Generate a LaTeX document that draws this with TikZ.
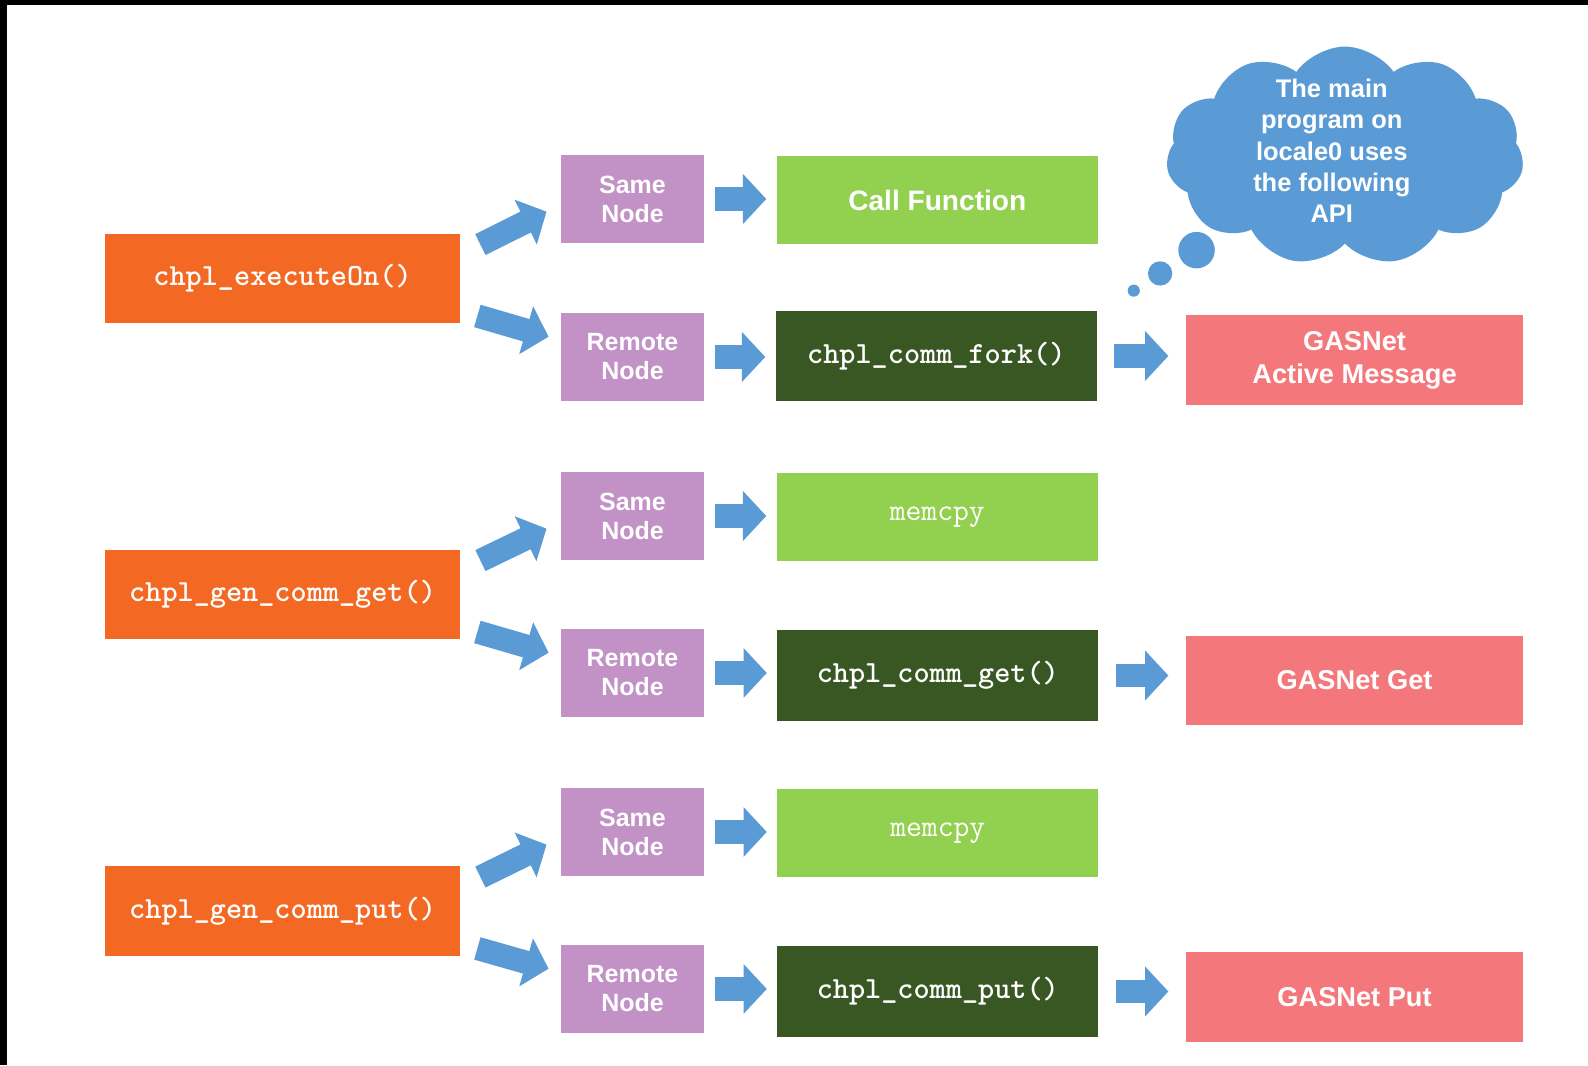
\documentclass[tikz,border=0pt]{standalone}
\usepackage{fontspec}
\setmainfont{Liberation Sans}
\usetikzlibrary{arrows.meta,calc,shapes.symbols}

\definecolor{fnorange}{RGB}{243,104,35}
\definecolor{sidepurple}{RGB}{194,146,199}
\definecolor{callgreen}{RGB}{146,208,80}
\definecolor{commgreen}{RGB}{57,87,35}
\definecolor{netpink}{RGB}{244,119,123}
\definecolor{arrowblue}{RGB}{91,155,213}

\newlength{\px}
\setlength{\px}{0.2026mm}
\newcommand{\boxfont}{\fontsize{14.2}{16.5}\selectfont\bfseries}
\newcommand{\callfont}{\fontsize{16}{18}\selectfont\bfseries}
\newcommand{\netfont}{\fontsize{15.5}{18.8}\selectfont\bfseries}
\newcommand{\cloudfont}{\fontsize{14.5}{17.8}\selectfont\bfseries}
\newcommand{\codefont}{\fontsize{17.5}{20}\selectfont\ttfamily\bfseries}
\newcommand{\memfont}{\fontsize{17.5}{20}\selectfont\ttfamily}

\begin{document}
\begin{tikzpicture}[x=\px, y=-\px,
        box/.style={rectangle, fill=#1, text=white, inner sep=0pt,
            minimum height=87\px, align=center},
        fnbox/.style={box=fnorange, minimum width=350\px, minimum height=88\px,
            font=\codefont},
        sidebox/.style={box=sidepurple, minimum width=141\px, font=\boxfont},
        callbox/.style={box=callgreen, minimum width=317\px, font=\callfont},
        commbox/.style={box=commgreen, minimum width=317\px, minimum height=89\px,
            font=\codefont},
        netbox/.style={box=netpink, minimum width=333\px, minimum height=88\px,
            font=\netfont},
        thought/.style={cloud, cloud puffs=11, cloud puff arc=110, fill=arrowblue,
            minimum width=353\px, minimum height=216\px, inner sep=0pt},
        bubble/.style={circle, fill=arrowblue, inner sep=0pt},
        blk/.style={draw=arrowblue, line width=4.66mm,
            -{Triangle[length=4.66mm,width=9.72mm]}},
        hop/.style={blk, shorten <=2.17mm, shorten >=2.03mm},
        nethop/.style={blk, shorten <=3.44mm, shorten >=3.44mm}]

\useasboundingbox (0,0) rectangle (1568,1052);
\fill[white] (0,0) rectangle (1568,1052);
\fill[black] (0,0) rectangle (1568,5);
\fill[black] (0,0) rectangle (7,1052);

% executeOn
\node[fnbox] (exec) at (279,275) {chpl\_executeOn()};
\node[sidebox] (same1) at (624.5,196.5) {Same\\Node};
\node[sidebox] (remote1) at (624.5,352.5) {Remote\\Node};
\node[callbox] (call) at (925.5,197.5) {Call Function};
\node[commbox] (fork) at (924.5,351.5) {chpl\_comm\_fork()};
\node[netbox] (am) at (1337.5,355.5) {GASNet\\Active Message};

% get
\node[fnbox] (getcall) at (279,587) {chpl\_gen\_comm\_get()};
\node[sidebox] (same2) at (624.5,509.5) {Same\\Node};
\node[sidebox] (remote2) at (624.5,664.5) {Remote\\Node};
\node[callbox, font=\memfont] (memget) at (925.5,510.5) {memcpy};
\node[commbox] (commget) at (926,667) {chpl\_comm\_get()};
\node[netbox] (netget) at (1337.5,672) {GASNet Get};

% put
\node[fnbox] (putcall) at (279,899.5) {chpl\_gen\_comm\_put()};
\node[sidebox] (same3) at (624.5,821.5) {Same\\Node};
\node[sidebox] (remote3) at (624.5,976.5) {Remote\\Node};
\node[callbox, font=\memfont] (memput) at (926,822.5) {memcpy};
\node[commbox] (commput) at (926,979) {chpl\_comm\_put()};
\node[netbox] (netput) at (1337.5,984.5) {GASNet Put};

% thought cloud
\node[thought] (cloud) at (1328,154) {};
\node[font=\cloudfont, text=white, align=center] (note) at (1315,149)
    {The main\\program on\\locale0 uses\\the following\\API};
\node[bubble, minimum size=36\px] (bub1) at (1181.5,247) {};
\node[bubble, minimum size=24\px] (bub2) at (1145.5,270) {};
\node[bubble, minimum size=12\px] (bub3) at (1119.5,287) {};

\draw[blk] ($(exec.east)+(20,-33.5)$) -- ($(same1.west)+(-14,12.5)$);
\draw[blk] ($(exec.east)+(17,37)$) -- ($(remote1.west)+(-12,-20)$);
\draw[hop] (same1.east) -- (same1.east -| call.west);
\draw[hop] (remote1.east) -- (remote1.east -| fork.west);
\draw[nethop] (fork.east) -- (fork.east -| am.west);

\draw[blk] ($(getcall.east)+(20,-33.5)$) -- ($(same2.west)+(-14,12.5)$);
\draw[blk] ($(getcall.east)+(17,37)$) -- ($(remote2.west)+(-12,-20)$);
\draw[hop] (same2.east) -- (same2.east -| memget.west);
\draw[hop] (remote2.east) -- (remote2.east -| commget.west);
\draw[nethop] (commget.east) -- (commget.east -| netget.west);

\draw[blk] ($(putcall.east)+(20,-33.5)$) -- ($(same3.west)+(-14,12.5)$);
\draw[blk] ($(putcall.east)+(17,37)$) -- ($(remote3.west)+(-12,-20)$);
\draw[hop] (same3.east) -- (same3.east -| memput.west);
\draw[hop] (remote3.east) -- (remote3.east -| commput.west);
\draw[nethop] (commput.east) -- (commput.east -| netput.west);
\end{tikzpicture}
\end{document}
